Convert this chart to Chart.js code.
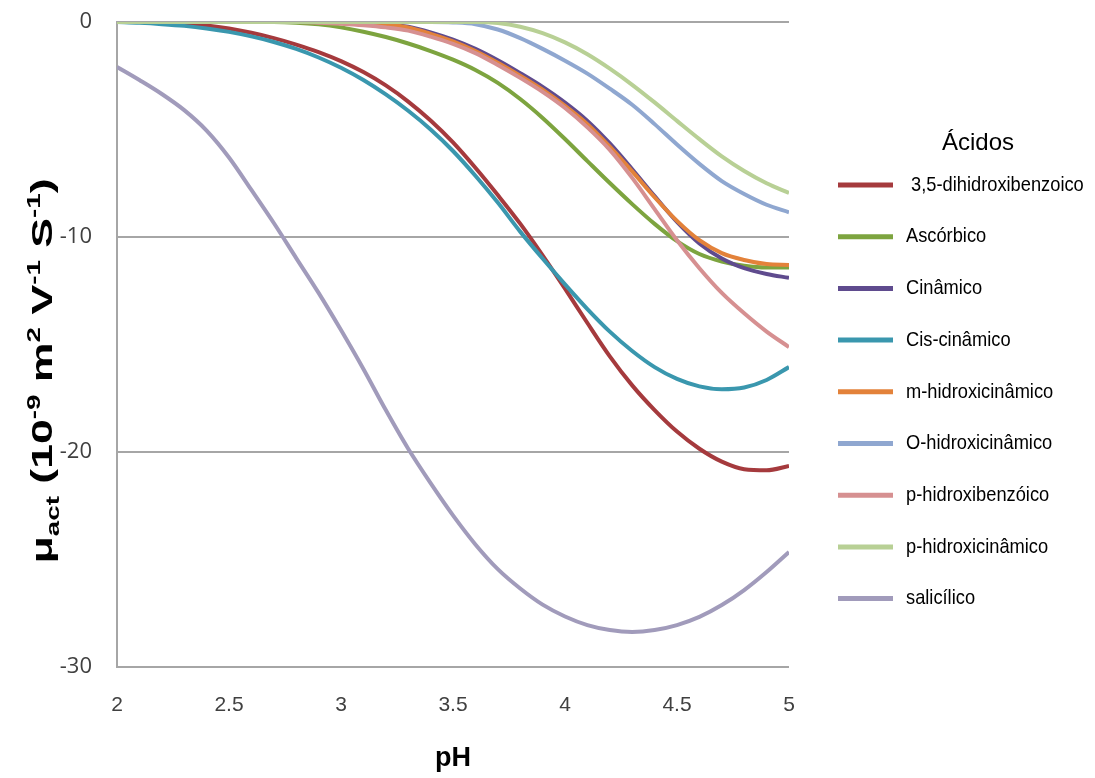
<!DOCTYPE html>
<html><head><meta charset="utf-8">
<script src="https://cdn.jsdelivr.net/npm/chart.js@4.4.1/dist/chart.umd.min.js"></script>
<style>html,body{margin:0;padding:0;background:#fff;}#wrap{width:1095px;height:778px;}</style>
</head><body><div id="wrap"><canvas id="c" width="1095" height="778"></canvas></div>
<script>
const pH = [2.0,2.1,2.2,2.3,2.4,2.5,2.6,2.7,2.8,2.9,3.0,3.1,3.2,3.3,3.4,3.5,3.6,3.7,3.8,3.9,4.0,4.1,4.2,4.3,4.4,4.5,4.6,4.7,4.8,4.9,5.0];
const xTicks = [2,2.5,3,3.5,4,4.5,5];
const yTicks = [0,-10,-20,-30];
const seriesNames = [' 3,5-dihidroxibenzoico','Ascórbico','Cinâmico','Cis-cinâmico','m-hidroxicinâmico','O-hidroxicinâmico','p-hidroxibenzóico','p-hidroxicinâmico','salicílico'];
const dihidroxibenzoico = [0,0,-0.02,-0.07,-0.16,-0.3,-0.5,-0.75,-1.05,-1.4,-1.82,-2.33,-2.95,-3.7,-4.58,-5.6,-6.78,-8.05,-9.38,-10.85,-12.4,-14.0,-15.55,-16.9,-18.05,-19.05,-19.85,-20.45,-20.8,-20.85,-20.65];
const ascorbico = [0,0,0,0,0,0,0,0,-0.03,-0.11,-0.25,-0.45,-0.7,-1.0,-1.35,-1.75,-2.23,-2.83,-3.58,-4.46,-5.44,-6.47,-7.49,-8.47,-9.39,-10.19,-10.79,-11.14,-11.34,-11.42,-11.42];
const cinamico = [0,0,0,0,0,0,0,0,0,0,-0.02,-0.05,-0.1,-0.22,-0.48,-0.82,-1.25,-1.78,-2.38,-3.02,-3.75,-4.6,-5.65,-6.85,-8.1,-9.3,-10.3,-11.0,-11.45,-11.72,-11.9];
const mHidroxicinamico = [0,0,0,0,0,0,0,0,0,0,-0.02,-0.06,-0.12,-0.25,-0.55,-0.9,-1.35,-1.9,-2.5,-3.15,-3.9,-4.75,-5.8,-6.95,-8.15,-9.25,-10.15,-10.75,-11.07,-11.26,-11.3];
const cisCinamico = [0,-0.04,-0.1,-0.18,-0.3,-0.46,-0.67,-0.93,-1.25,-1.65,-2.13,-2.7,-3.37,-4.13,-5.0,-6.0,-7.15,-8.4,-9.75,-11.0,-12.2,-13.35,-14.4,-15.3,-16.05,-16.6,-16.95,-17.08,-17.0,-16.65,-16.05];
const oHidroxicinamico = [0,0,0,0,0,0,0,0,0,0,0,0,0,0,0,-0.02,-0.1,-0.35,-0.75,-1.25,-1.8,-2.4,-3.1,-3.85,-4.75,-5.7,-6.6,-7.4,-8.0,-8.5,-8.85];
const pHidroxibenzoico = [0,0,0,0,0,0,0,0,0,-0.03,-0.08,-0.15,-0.25,-0.4,-0.68,-1.02,-1.45,-2.0,-2.6,-3.25,-4.0,-4.9,-5.95,-7.25,-8.7,-10.15,-11.45,-12.6,-13.55,-14.4,-15.12];
const pHidroxicinamico = [0,0,0,0,0,0,0,0,0,0,0,0,0,0,0,0,0,-0.05,-0.22,-0.52,-0.95,-1.5,-2.17,-2.92,-3.74,-4.6,-5.45,-6.25,-6.93,-7.5,-7.95];
const salicilico = [-2.09,-2.7,-3.35,-4.1,-5.05,-6.3,-7.81,-9.35,-10.98,-12.6,-14.33,-16.14,-18.05,-19.85,-21.45,-22.95,-24.3,-25.45,-26.35,-27.1,-27.65,-28.05,-28.28,-28.37,-28.28,-28.05,-27.67,-27.12,-26.42,-25.58,-24.65];

const seriesValues = [dihidroxibenzoico,ascorbico,cinamico,cisCinamico,mHidroxicinamico,oHidroxicinamico,pHidroxibenzoico,pHidroxicinamico,salicilico];
const colors = ['#A53A3D','#7DA43F','#5F4B8E','#3A97AE','#E3823A','#8FA7D0','#D69091','#B8D095','#A19BBB'];

const datasets = seriesValues.map((vals,i)=>({
  label: seriesNames[i],
  data: pH.map((x,j)=>({x:x,y:vals[j]})),
  borderColor: colors[i],
  backgroundColor: colors[i],
  borderWidth: 4,
  pointRadius: 0,
  tension: 0.4,
  cubicInterpolationMode: 'monotone',
  fill: false,
  order: seriesValues.length - i
}));

const yTitlePlugin = {
  id:'yTitle',
  afterDraw(chart){
    const ctx = chart.ctx;
    const big = 'bold 29px "Liberation Sans", Arial, sans-serif';
    const small = 'bold 18px "Liberation Sans", Arial, sans-serif';
    const parts = [
      {t:'\u03bc',f:big,dy:0},
      {t:'act',f:small,dy:7},
      {t:' (10',f:big,dy:0},
      {t:'-9',f:small,dy:-12},
      {t:' m',f:big,dy:0},
      {t:'2',f:small,dy:-12},
      {t:' V',f:big,dy:0},
      {t:'-1',f:small,dy:-12},
      {t:' S',f:big,dy:0},
      {t:'-1',f:small,dy:-12},
      {t:')',f:big,dy:0}
    ];
    ctx.save();
    let total=0;
    parts.forEach(p=>{ctx.font=p.f;p.w=ctx.measureText(p.t).width;total+=p.w;});
    const targetLen = 385;
    ctx.translate(52,371);
    ctx.rotate(-Math.PI/2);
    ctx.scale(targetLen/total,1);
    ctx.fillStyle='#000';
    ctx.textBaseline='alphabetic';
    ctx.textAlign='left';
    let x=-total/2;
    parts.forEach(p=>{ctx.font=p.f;ctx.fillText(p.t,x,p.dy);x+=p.w;});
    ctx.restore();
  }
};

const legendPlugin = {
  id:'customLegend',
  afterDraw(chart){
    const ctx = chart.ctx;
    ctx.save();
    ctx.fillStyle='#000';
    ctx.font='24px "Liberation Sans", Arial, sans-serif';
    ctx.textAlign='center';
    ctx.textBaseline='middle';
    ctx.fillText('Ácidos',978,143);
    ctx.font='21px "Liberation Sans", Arial, sans-serif';
    ctx.textAlign='left';
    chart.data.datasets.forEach((ds,i)=>{
      const y = 185 + i*51.7;
      ctx.strokeStyle = ds.borderColor;
      ctx.lineWidth = 5;
      ctx.lineCap='butt';
      ctx.beginPath();ctx.moveTo(838,y);ctx.lineTo(893,y);ctx.stroke();
      ctx.fillStyle='#000';
      ctx.save();
      ctx.translate(906,y);
      ctx.scale(0.87,1);
      ctx.fillText(ds.label,0,0);
      ctx.restore();
    });
    ctx.restore();
  }
};

new Chart(document.getElementById('c'),{
  type:'line',
  data:{datasets:datasets},
  options:{
    responsive:false,
    animation:false,
    devicePixelRatio:1,
    layout:{padding:{left:0,right:306,top:22,bottom:0}},
    plugins:{legend:{display:false},tooltip:{enabled:false},title:{display:false}},
    scales:{
      x:{
        type:'linear',min:2,max:5,
        afterFit(s){s.height=111;s.paddingLeft=0;s.paddingRight=0;},
        afterBuildTicks(s){s.ticks=xTicks.map(v=>({value:v}));},
        ticks:{padding:26,color:'#404040',font:{family:'"Liberation Sans", sans-serif',size:21},callback:v=>String(v)},
        grid:{display:false,drawTicks:false},
        border:{display:false},
        title:{display:true,text:'pH',color:'#000',font:{family:'"Liberation Sans", sans-serif',size:27,weight:'bold'},padding:{top:0,bottom:3}}
      },
      y:{
        type:'linear',min:-30,max:0,
        afterFit(s){s.width=117;s.paddingTop=0;s.paddingBottom=0;},
        afterBuildTicks(s){s.ticks=yTicks.map(v=>({value:v}));},
        ticks:{padding:25,color:'#404040',font:{family:'"Open Sans", sans-serif',size:22},callback:v=>String(v)},
        grid:{color:'#A6A6A6',lineWidth:2,drawTicks:false},
        border:{display:true,color:'#A6A6A6',width:2}
      }
    }
  },
  plugins:[yTitlePlugin,legendPlugin]
});
</script>
</body></html>
